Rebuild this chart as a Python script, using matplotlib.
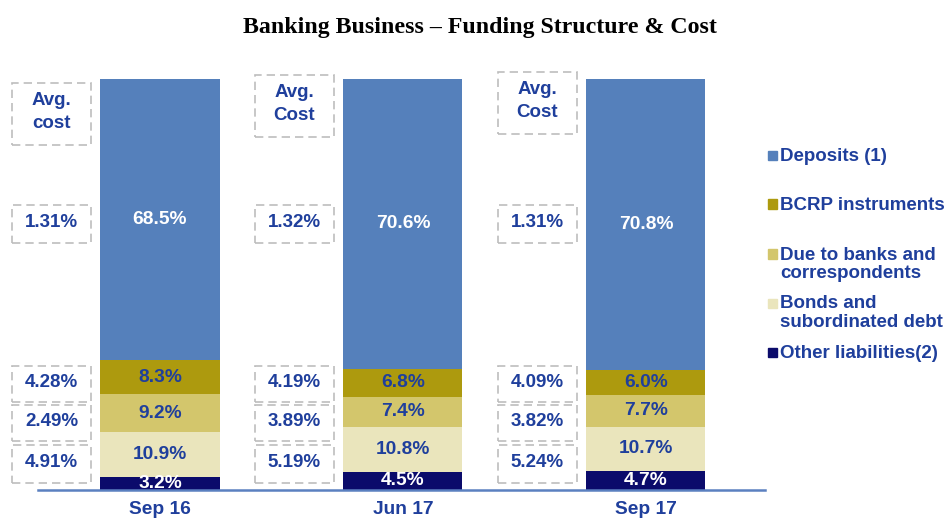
import matplotlib.pyplot as plt
from matplotlib.patches import Rectangle
import numpy as np

periods = ["Sep 16", "Jun 17", "Sep 17"]
series = ["Deposits (1)", "BCRP instruments", "Due to banks and\ncorrespondents",
          "Bonds and\nsubordinated debt", "Other liabilities(2)"]
deposits = [68.5, 70.6, 70.8]
bcrp = [8.3, 6.8, 6.0]
due_banks = [9.2, 7.4, 7.7]
bonds = [10.9, 10.8, 10.7]
other = [3.2, 4.5, 4.7]
header = ["Avg.\ncost", "Avg.\nCost", "Avg.\nCost"]
cost_deposits = ["1.31%", "1.32%", "1.31%"]
cost_bcrp = ["4.28%", "4.19%", "4.09%"]
cost_banks = ["2.49%", "3.89%", "3.82%"]
cost_bonds = ["4.91%", "5.19%", "5.24%"]

colors = ["#5580bb", "#ad9a0e", "#d3c66c", "#eae5bc", "#0b0b6b"]
label_colors = ["white", "#1f3f9c", "#1f3f9c", "#1f3f9c", "white"]
navy = "#1f3f9c"
W, H = 949, 521

plt.rcParams['font.family'] = ['Liberation Sans', 'DejaVu Sans']
fig = plt.figure(figsize=(W / 100, H / 100), dpi=100)
ax = fig.add_axes([38 / W, 31 / H, (765 - 38) / W, 411 / H])

x = np.arange(len(periods))
stack = [deposits, bcrp, due_banks, bonds, other]
# bottom-up order: other, bonds, due banks, bcrp, deposits
order = [4, 3, 2, 1, 0]
bottom = np.zeros(len(periods))
for i in order:
    vals = np.array(stack[i])
    ax.bar(x, vals, bottom=bottom, width=0.49, color=colors[i], edgecolor="none")
    for xi, v, b in zip(x, vals, bottom):
        ax.text(xi, b + v / 2, f"{v:.1f}%", ha="center", va="center",
                color=label_colors[i], fontsize=13.8, fontweight="bold")
    bottom += vals

ax.set_xlim(-0.502, 2.49)
ax.set_ylim(0, 100)
for s in ["top", "right", "left"]:
    ax.spines[s].set_visible(False)
ax.spines["bottom"].set_color("#5b80c0")
ax.spines["bottom"].set_linewidth(1.8)
ax.set_yticks([])
ax.set_xticks(x)
ax.set_xticklabels(periods, fontsize=13.8, fontweight="bold", color=navy)
ax.tick_params(axis="x", length=0, pad=8)

# dashed cost boxes (pixel rows converted to data units)
def py2d(py):
    return (490 - py) / 4.11

rows = [(205, 243), (366, 402), (405, 441), (445, 483)]
costs = [cost_deposits, cost_bcrp, cost_banks, cost_bonds]
tops = [83, 75, 72]
for gi in range(len(periods)):
    x0 = gi - 0.609
    bw = 0.325
    boxes = [(tops[gi], tops[gi] + 62, header[gi])]
    boxes += [(r[0], r[1], c[gi]) for r, c in zip(rows, costs)]
    for t, b, txt in boxes:
        y0 = py2d(b)
        h = py2d(t) - y0
        ax.add_patch(Rectangle((x0, y0), bw, h, fill=False, edgecolor="#bdbdbd",
                               linestyle=(0, (5, 3)), linewidth=1.2, clip_on=False))
        ax.text(x0 + bw / 2, y0 + h / 2 + 0.4, txt, ha="center", va="center", color=navy,
                fontsize=13.5, fontweight="bold", linespacing=1.45, clip_on=False)

# legend
leg_y = [155, 204, 254, 303, 352]
for i, lab in enumerate(series):
    yc = 1 - leg_y[i] / H
    fig.patches.append(Rectangle((768 / W, yc - 4.5 / H), 9 / W, 9 / H,
                                 transform=fig.transFigure, color=colors[i]))
    fig.text(780 / W, yc + 7.5 / H, lab, ha="left", va="top", color=navy,
             fontsize=13.5, fontweight="bold", linespacing=1.15)

fig.text(480 / W, 1 - 28 / H, "Banking Business \u2013 Funding Structure & Cost",
         ha="center", va="center", fontsize=17.2, fontweight="bold",
         family=["Liberation Serif", "DejaVu Serif"])

fig.savefig("out.png", dpi=100)
